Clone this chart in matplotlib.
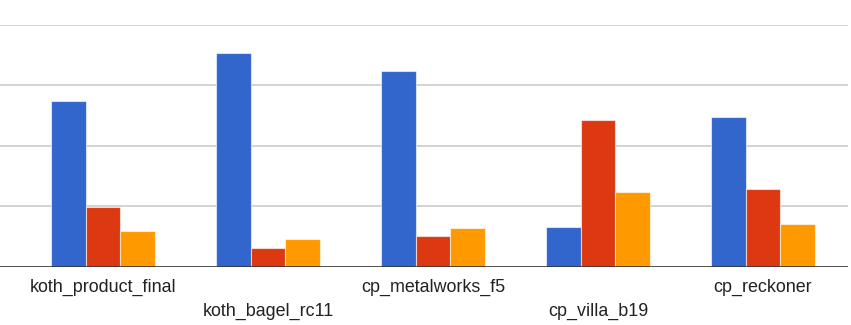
import numpy as np
import matplotlib.pyplot as plt
from matplotlib.transforms import blended_transform_factory

maps = ["koth_product_final", "koth_bagel_rc11", "cp_metalworks_f5", "cp_villa_b19", "cp_reckoner"]
blue_vals = [27.5, 35.4, 32.4, 6.6, 24.7]
red_vals = [9.9, 3.1, 5.1, 24.3, 12.9]
orange_vals = [5.9, 4.6, 6.4, 12.3, 7.1]
colors = ["#3366cc", "#dc3912", "#ff9900"]

W, H = 851, 325
fig = plt.figure(figsize=(W / 100, H / 100), dpi=100)
ax = fig.add_axes([0, (H - 266.7) / H, 848 / W, 241.7 / H])

x = np.arange(len(maps))
w = 0.209
for k, vals in enumerate([blue_vals, red_vals, orange_vals]):
    ax.bar(x + (k - 1) * w, vals, width=w, color=colors[k],
           edgecolor=(1, 1, 1, 0.6), linewidth=0.8, zorder=3)

ax.set_xlim(-0.624, 4.515)
ax.set_ylim(0, 40)
for g in [10, 20, 30, 40]:
    ax.axhline(g, color="#cccccc", linewidth=1.2, zorder=1)
ax.axhline(0, color="#333333", linewidth=1.2, zorder=4)

for s in ax.spines.values():
    s.set_visible(False)
ax.set_xticks([])
ax.set_yticks([])

# staggered category labels, two rows
tr = blended_transform_factory(ax.transData, ax.transAxes)
for i, name in enumerate(maps):
    yy = -0.084 if i % 2 == 0 else -0.186
    ax.text(i, yy, name, transform=tr, ha="center", va="center",
            fontsize=12.9, color="#222222", family="Liberation Sans")

fig.savefig("out.png", dpi=100)
